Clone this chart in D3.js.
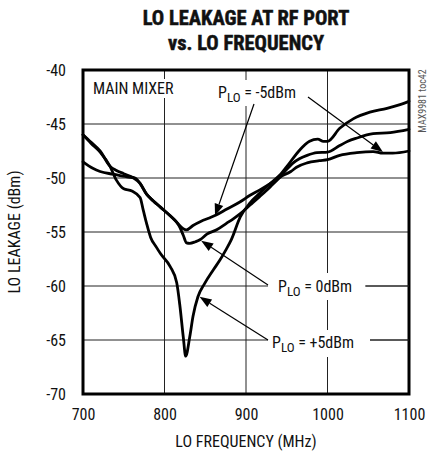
<!DOCTYPE html>
<html>
<head>
<meta charset="utf-8">
<script src="https://cdn.jsdelivr.net/npm/d3@7"></script>
<style>
  html, body { margin: 0; padding: 0; background: #fff; }
  svg { display: block; }
  text { font-family: "Liberation Sans Narrow", "Arial Narrow", "Roboto Condensed", sans-serif; fill: #111; }
</style>
</head>
<body>
<svg id="chart" width="433" height="454"></svg>
<script>
// LO leakage at the RF port, MAX9981 main mixer, three LO drive levels
const xTicks = [700, 800, 900, 1000, 1100];
const yTicks = [-70, -65, -60, -55, -50, -45, -40];

// P_LO = -5dBm
const freqM5 = [700, 712, 721, 737, 754, 764, 770, 778, 786, 795, 807, 815, 823, 827, 835, 845, 855, 864, 876, 893, 905, 917, 930, 942, 955, 962, 975, 990, 1000, 1015, 1036, 1056, 1068, 1080, 1100];
const leakM5 = [-48.5, -49.1, -49.4, -49.65, -49.9, -50.0, -50.5, -51.5, -52.1, -52.7, -53.5, -54.1, -54.7, -54.8, -54.4, -54.0, -53.7, -53.4, -52.9, -52.2, -51.6, -51.1, -50.5, -49.9, -49.4, -49.0, -48.6, -48.4, -48.3, -47.9, -47.65, -47.55, -47.7, -47.7, -47.5];

// P_LO = 0dBm
const freq0 = [700, 710, 721, 733, 741, 750, 762, 770, 778, 786, 795, 807, 815, 819, 823, 827, 831, 838, 844, 852, 864, 876, 884, 893, 905, 917, 930, 942, 950, 958, 966, 975, 987, 1000, 1015, 1025, 1036, 1056, 1077, 1100];
const leak0 = [-46.0, -46.7, -47.5, -48.9, -49.3, -49.6, -50.0, -50.5, -51.5, -52.1, -52.7, -53.5, -54.1, -54.6, -55.3, -56.0, -56.05, -55.9, -55.7, -55.2, -54.8, -54.2, -53.8, -53.3, -52.5, -51.7, -50.8, -49.9, -49.2, -48.6, -48.2, -47.9, -47.65, -47.6, -47.0, -46.6, -46.3, -45.9, -45.8, -45.5];

// P_LO = +5dBm
const freqP5 = [700, 710, 721, 733, 741, 750, 760, 770, 774, 778, 783, 790, 795, 807, 815, 819, 823, 826, 831, 835, 841, 849, 860, 868, 875, 882, 893, 905, 917, 933, 942, 950, 966, 978, 988, 995, 1000, 1015, 1032, 1052, 1073, 1089, 1100];
const leakP5 = [-46.0, -46.8, -47.6, -48.9, -50.2, -51.0, -51.2, -51.8, -53.0, -54.2, -55.5, -56.4, -57.0, -58.2, -59.7, -61.9, -64.7, -66.5, -64.7, -62.8, -61.0, -59.8, -58.5, -57.6, -56.7, -55.7, -53.6, -52.3, -51.4, -50.3, -49.7, -48.95, -47.4, -46.6, -46.4, -46.6, -46.6, -45.4, -44.5, -43.9, -43.55, -43.2, -42.9];

const margin = { left: 83, top: 70, right: 24, bottom: 60 };
const W = 433, H = 454;
const iw = W - margin.left - margin.right;   // 326
const ih = H - margin.top - margin.bottom;   // 324

const svg = d3.select("#chart");
const x = d3.scaleLinear().domain([700, 1100]).range([margin.left, margin.left + iw]);
const y = d3.scaleLinear().domain([-70, -40]).range([margin.top + ih, margin.top]);
const fmt = d => String(d);

// title (bold, condensed)
[["LO LEAKAGE AT RF PORT", 25], ["vs. LO FREQUENCY", 50]].forEach(([t, ty]) => {
  svg.append("text").attr("x", 246).attr("y", ty)
    .attr("text-anchor", "middle")
    .style("font-weight", "bold").style("font-size", "20.5px").style("stroke", "#111").style("stroke-width", 0.5)
    .text(t);
});

// grid
const grid = svg.append("g").attr("stroke", "#222").attr("stroke-width", 1);
grid.selectAll("line.v").data(xTicks.slice(1, -1)).join("line")
  .attr("x1", d => x(d)).attr("x2", d => x(d))
  .attr("y1", margin.top).attr("y2", margin.top + ih);
grid.selectAll("line.h").data(yTicks.slice(1, -1)).join("line")
  .attr("y1", d => y(d)).attr("y2", d => y(d))
  .attr("x1", margin.left).attr("x2", margin.left + iw);

// white boxes behind in-plot labels
const boxes = [
  [88, 79, 92, 19],
  [214, 80, 92, 26],
  [268, 273, 98, 27],
  [268, 330, 102, 27]
];
svg.append("g").selectAll("rect").data(boxes).join("rect")
  .attr("x", d => d[0]).attr("y", d => d[1]).attr("width", d => d[2]).attr("height", d => d[3])
  .attr("fill", "#fff");

// curves
const line = d3.line().x(d => x(d[0])).y(d => y(d[1])).curve(d3.curveMonotoneX);
const series = [
  d3.zip(freqM5, leakM5),
  d3.zip(freq0, leak0),
  d3.zip(freqP5, leakP5)
];
svg.append("g").selectAll("path").data(series).join("path")
  .attr("d", line).attr("fill", "none").attr("stroke", "#000")
  .attr("stroke-width", 2.8).attr("stroke-linejoin", "round").attr("stroke-linecap", "round");

// frame
svg.append("rect").attr("x", margin.left).attr("y", margin.top)
  .attr("width", iw).attr("height", ih)
  .attr("fill", "none").attr("stroke", "#000").attr("stroke-width", 3);

// axes labels
const xAxis = d3.axisBottom(x).tickValues(xTicks).tickSize(0).tickPadding(15).tickFormat(fmt);
const gx = svg.append("g").attr("transform", `translate(0,${margin.top + ih})`).call(xAxis);
gx.select(".domain").remove();
gx.selectAll("text").style("font-size", "16px").attr("fill", "#111");

const yAxis = d3.axisLeft(y).tickValues(yTicks).tickSize(0).tickPadding(17).tickFormat(fmt);
const gy = svg.append("g").attr("transform", `translate(${margin.left},0)`).call(yAxis);
gy.select(".domain").remove();
gy.selectAll("text").style("font-size", "16px").attr("fill", "#111");

svg.append("text").attr("x", 246).attr("y", 447).attr("text-anchor", "middle")
  .style("font-size", "16px").text("LO FREQUENCY (MHz)");
svg.append("text").attr("transform", `translate(20,${margin.top + ih / 2}) rotate(-90)`)
  .attr("text-anchor", "middle").style("font-size", "16px").text("LO LEAKAGE (dBm)");

svg.append("text").attr("transform", "translate(426,101) rotate(-90)")
  .attr("text-anchor", "middle").style("font-size", "10px").style("fill", "#555").text("MAX9981 toc42");

// in-plot annotations
svg.append("text").attr("x", 93).attr("y", 94).style("font-size", "16px").text("MAIN MIXER");

function plo(xp, yp, val) {
  const t = svg.append("text").attr("x", xp).attr("y", yp).style("font-size", "16px");
  t.append("tspan").text("P");
  t.append("tspan").attr("dy", 4).style("font-size", "13px").text("LO");
  t.append("tspan").attr("dy", -4).text(" = " + val);
}
plo(218, 98, "-5dBm");
plo(278, 292, "0dBm");
plo(272, 348, "+5dBm");

// gridline stubs to the right of the lower labels
svg.append("line").attr("x1", 365).attr("x2", x(1100)).attr("y1", y(-60)).attr("y2", y(-60)).attr("stroke", "#222");
svg.append("line").attr("x1", 370).attr("x2", x(1100)).attr("y1", y(-65)).attr("y2", y(-65)).attr("stroke", "#222");

// arrows: [from x, from y, to frequency, to leakage]
const arrows = [
  [254, 104, 862, -53.5],
  [308, 97, 1068, -47.6],
  [268, 285, 845, -55.8],
  [268, 340, 843, -61.0]
];
const ag = svg.append("g");
arrows.forEach(a => {
  const x0 = a[0], y0 = a[1], x1 = x(a[2]), y1 = y(a[3]);
  const ang = Math.atan2(y1 - y0, x1 - x0);
  const len = 12, half = 4.5;
  const bx = x1 - len * Math.cos(ang), by = y1 - len * Math.sin(ang);
  ag.append("line").attr("x1", x0).attr("y1", y0).attr("x2", bx).attr("y2", by)
    .attr("stroke", "#000").attr("stroke-width", 1.2);
  const px = -Math.sin(ang) * half, py = Math.cos(ang) * half;
  ag.append("path")
    .attr("d", `M${x1},${y1}L${bx + px},${by + py}L${bx - px},${by - py}Z`)
    .attr("fill", "#000");
});
</script>
</body>
</html>
